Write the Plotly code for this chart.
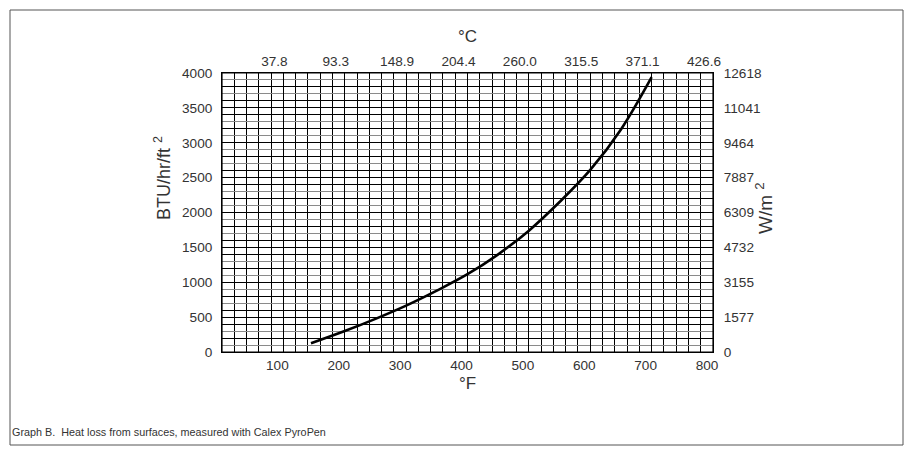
import plotly.graph_objects as go

# Data
temp_f = [145, 200, 250, 300, 350, 400, 450, 500, 550, 600, 650, 700]
heat_btu = [125, 300, 475, 665, 880, 1115, 1400, 1740, 2150, 2610, 3190, 3940]

f_ticks = [100, 200, 300, 400, 500, 600, 700, 800]
c_labels = ["37.8", "93.3", "148.9", "204.4", "260.0", "315.5", "371.1", "426.6"]
btu_ticks = [0, 500, 1000, 1500, 2000, 2500, 3000, 3500, 4000]
wm2_labels = ["0", "1577", "3155", "4732", "6309", "7887", "9464", "11041", "12618"]

OFF = 8  # page body margin
W, H = 913, 450
L, R, T, B = 222 - OFF, 713 - OFF, 73 - OFF, 352 - OFF
pw, ph = R - L, B - T

def px(x):
    return (x - OFF - L) / pw

def py(y):
    return (B - (y - OFF)) / ph

FONT = "Liberation Sans, Arial, sans-serif"
TXT = "#333333"

fig = go.Figure()
fig.add_trace(go.Scatter(x=temp_f, y=heat_btu, mode="lines",
                         line=dict(color="black", width=2.6, shape="spline"),
                         hoverinfo="skip", showlegend=False))
fig.add_trace(go.Scatter(x=temp_f, y=heat_btu, mode="lines", xaxis="x2", yaxis="y2",
                         line=dict(color="rgba(0,0,0,0)", width=0),
                         hoverinfo="skip", showlegend=False))

tickfont = dict(family=FONT, size=13.6, color=TXT)
axis_common = dict(showline=True, linecolor="black", linewidth=1,
                   zeroline=False, ticks="", tickfont=tickfont)

fig.update_layout(
    width=W, height=H,
    margin=dict(l=L, r=W - R, t=T, b=H - B, autoexpand=False),
    paper_bgcolor="white", plot_bgcolor="white",
    font=dict(family=FONT, color=TXT, size=14),
    xaxis=dict(range=[0, 800], tickmode="array", tickvals=f_ticks,
               showgrid=True, gridcolor="black", gridwidth=1,
               minor=dict(dtick=20, showgrid=True, gridcolor="black", gridwidth=1),
               ticklabelshift=-6, ticklabelstandoff=1,
               title=dict(text="°F", font=dict(family=FONT, size=17, color=TXT), standoff=4),
               **axis_common),
    xaxis2=dict(range=[0, 800], overlaying="x", side="top", tickmode="array",
                tickvals=f_ticks, ticktext=c_labels, showgrid=False,
                ticklabelshift=-9, ticklabelstandoff=1,
                title=dict(text="°C", font=dict(family=FONT, size=17, color=TXT), standoff=6),
                **axis_common),
    yaxis=dict(range=[0, 4000], tickmode="array", tickvals=btu_ticks,
               showgrid=True, gridcolor="black", gridwidth=1,
               minor=dict(dtick=100, showgrid=True, gridcolor="#8a8a8a", gridwidth=1),
               ticklabelstandoff=6,
               **axis_common),
    yaxis2=dict(range=[0, 4000], overlaying="y", side="right", tickmode="array",
                tickvals=btu_ticks, ticktext=wm2_labels, showgrid=False,
                minor=dict(dtick=200, showgrid=True, gridcolor="black", gridwidth=1),
                ticklabelstandoff=7,
                **axis_common),
)

# plot frame
fig.add_shape(type="rect", xref="paper", yref="paper", x0=0, y0=0, x1=1, y1=1,
              line=dict(color="black", width=1.2), layer="above")
# outer border
fig.add_shape(type="rect", xref="paper", yref="paper",
              x0=px(10), x1=px(903), y0=py(445), y1=py(10),
              line=dict(color="#555555", width=1))

# axis titles (placed as rotated annotations)
fig.add_annotation(text="BTU/hr/ft <sup>2</sup>", xref="paper", yref="paper",
                   x=px(162), y=py(178), textangle=-90, showarrow=False,
                   xanchor="center", yanchor="middle",
                   font=dict(family=FONT, size=18, color=TXT))
fig.add_annotation(text="W/m <sup>2</sup>", xref="paper", yref="paper",
                   x=px(764), y=py(208), textangle=-90, showarrow=False,
                   xanchor="center", yanchor="middle",
                   font=dict(family=FONT, size=19, color=TXT))

fig.add_annotation(text="Graph B.  Heat loss from surfaces, measured with Calex PyroPen",
                   xref="paper", yref="paper", x=px(10), y=py(432),
                   xanchor="left", yanchor="middle", showarrow=False,
                   font=dict(family=FONT, size=10.8, color=TXT))

fig.write_html("out.html")
